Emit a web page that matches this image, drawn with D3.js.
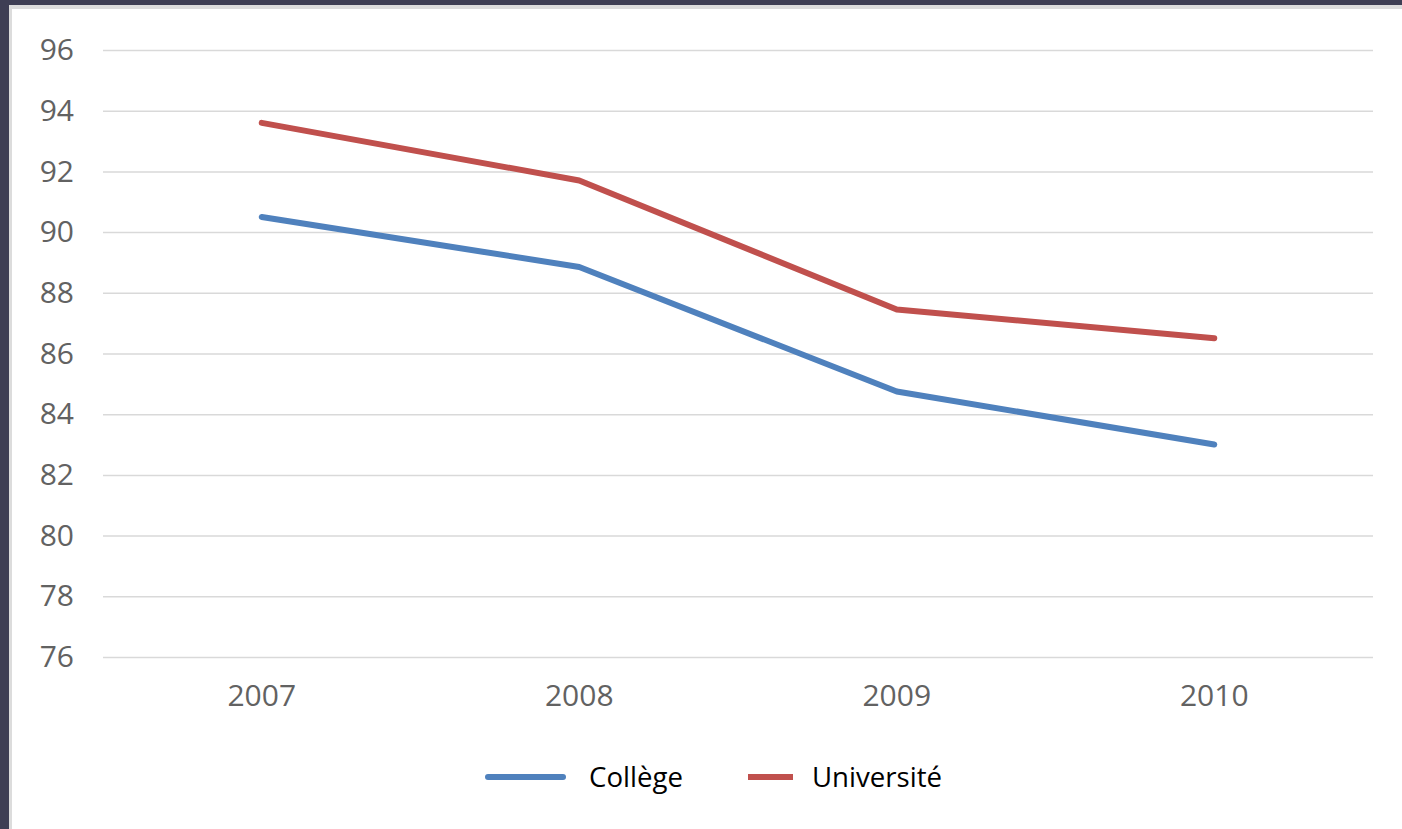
<!DOCTYPE html>
<html>
<head>
<meta charset="utf-8">
<script src="https://cdn.jsdelivr.net/npm/d3@7"></script>
<style>
  body { margin: 0; background: #3e3e54; overflow: hidden; }
  text { font-family: "Open Sans", sans-serif; }
</style>
</head>
<body>
<div id="container"></div>
<script>
let w = 1402;
let h = 829;

let years = ["2007", "2008", "2009", "2010"];
let college = [90.5, 88.85, 84.75, 83.0];
let universite = [93.6, 91.7, 87.45, 86.5];
let yTicks = [76, 78, 80, 82, 84, 86, 88, 90, 92, 94, 96];
let seriesNames = ["Collège", "Université"];
let seriesColors = ["#4f81bd", "#c0504d"];

let viz = d3.select("#container")
  .append("svg")
    .attr("width", w)
    .attr("height", h)
;

// frame
viz.append("rect").attr("x", 0).attr("y", 0).attr("width", w).attr("height", h).attr("fill", "#3e3e54");
viz.append("rect").attr("x", 9).attr("y", 5).attr("width", w - 9).attr("height", h - 5).attr("fill", "#dcdcdc");
viz.append("rect").attr("x", 12).attr("y", 9).attr("width", w - 12).attr("height", h - 9).attr("fill", "#ffffff");

let xScale = d3.scaleBand().domain(years).range([103, 1373]);
let yScale = d3.scaleLinear().domain([76, 96]).range([657, 50]);

// grid + y labels
let yAxis = d3.axisLeft(yScale).tickValues(yTicks).tickSize(-(1373 - 103)).tickPadding(29);
let yAxisGroup = viz.append("g").attr("class", "yaxis")
  .attr("transform", "translate(103,0)")
  .call(yAxis);
yAxisGroup.select(".domain").remove();
yAxisGroup.selectAll("line").attr("stroke", "#d9d9d9").attr("stroke-width", 1.5);
yAxisGroup.selectAll("text")
  .attr("fill", "#626262")
  .attr("font-size", "30px")
  .attr("font-family", "Open Sans, sans-serif");

// x labels
let xAxis = d3.axisBottom(xScale).tickSize(0).tickPadding(28);
let xAxisGroup = viz.append("g").attr("class", "xaxis")
  .attr("transform", "translate(0,657)")
  .call(xAxis);
xAxisGroup.select(".domain").remove();
xAxisGroup.selectAll("text")
  .attr("fill", "#626262")
  .attr("font-size", "30px")
  .attr("font-family", "Open Sans, sans-serif");

let line = d3.line()
  .x(function(d, i){ return xScale(years[i]) + xScale.bandwidth() / 2; })
  .y(function(d){ return yScale(d); });

[college, universite].forEach(function(s, i){
  viz.append("path")
    .attr("d", line(s))
    .attr("fill", "none")
    .attr("stroke", seriesColors[i])
    .attr("stroke-width", 6)
    .attr("stroke-linecap", "round")
    .attr("stroke-linejoin", "round");
});

// legend
let legendItems = [
  {x1: 488, x2: 563, tx: 589, cap: "round"},
  {x1: 748, x2: 793, tx: 812, cap: "butt"}
];
legendItems.forEach(function(d, i){
  viz.append("line")
    .attr("x1", d.x1).attr("x2", d.x2)
    .attr("y1", 777).attr("y2", 777)
    .attr("stroke", seriesColors[i])
    .attr("stroke-width", 6)
    .attr("stroke-linecap", d.cap);
  viz.append("text")
    .text(seriesNames[i])
    .attr("x", d.tx)
    .attr("y", 787)
    .attr("font-size", "27.6px")
    .attr("fill", "#000000");
});
</script>
</body>
</html>
